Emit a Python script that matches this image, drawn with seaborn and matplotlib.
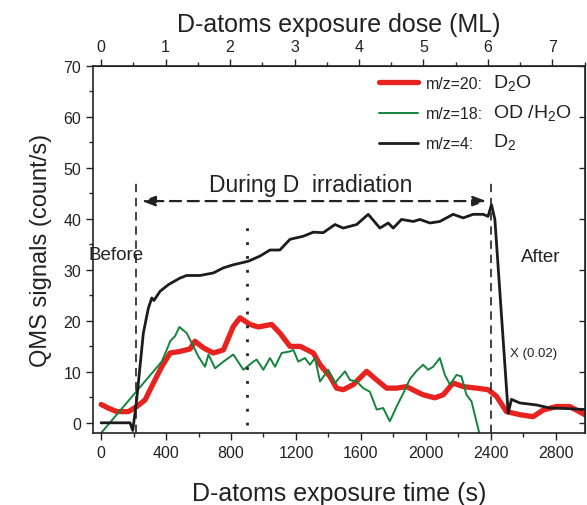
import matplotlib
matplotlib.use('Agg')
import matplotlib.pyplot as plt
from matplotlib.ticker import MultipleLocator
import pandas as pd
import seaborn as sns

# m/z=20 : D2O
d2o_time = [0, 50, 97, 168, 220, 271, 322, 373, 425, 486, 548, 578, 630, 691, 753,
            814, 855, 917, 968, 1050, 1101, 1163, 1225, 1307, 1348, 1409, 1450, 1491,
            1553, 1635, 1697, 1758, 1820, 1881, 1943, 1983, 2055, 2107, 2168, 2230,
            2312, 2383, 2435, 2496, 2578, 2660, 2722, 2804, 2886, 2978]
d2o_signal = [3.6, 2.8, 2.2, 2.2, 3.2, 4.5, 7.8, 11.0, 13.7, 14.0, 14.5, 16.0, 14.7, 13.7, 14.3,
              18.9, 20.6, 19.3, 18.8, 19.3, 17.6, 15.0, 15.0, 13.7, 11.4, 9.1, 6.8, 6.5,
              7.5, 10.1, 8.4, 6.8, 6.8, 7.1, 6.1, 5.5, 4.9, 5.5, 7.8, 7.1,
              6.8, 6.5, 5.2, 2.2, 1.6, 1.2, 2.5, 3.2, 3.2, 1.6]

# m/z=18 : OD / H2O
oh_time = [0, 373, 400, 425, 455, 482, 527, 568, 599, 640, 661, 702, 753, 814, 876,
           937, 958, 999, 1040, 1071, 1112, 1163, 1184, 1214, 1255, 1286, 1317, 1348,
           1399, 1440, 1502, 1532, 1574, 1614, 1655, 1697, 1737, 1778, 1820, 1861,
           1902, 1943, 1983, 2014, 2045, 2086, 2117, 2148, 2189, 2219, 2250, 2281, 2332]
oh_signal = [-2.0, 12.0, 14.0, 16.0, 17.0, 18.8, 17.6, 15.0, 13.0, 11.0, 13.4, 10.7, 12.0, 13.4, 10.4,
             12.0, 12.4, 10.4, 12.7, 11.0, 13.7, 14.0, 14.3, 12.0, 12.7, 11.4, 12.7, 8.1,
             10.4, 7.8, 10.1, 8.4, 8.1, 6.8, 6.1, 2.6, 2.9, 0.3, 3.2, 5.8,
             8.6, 10.2, 11.4, 10.4, 11.0, 12.7, 9.4, 7.5, 9.4, 9.1, 5.5, 4.2, -2.4]

# m/z=4 : D2
d2_time = [0, 178, 195, 219, 260, 291, 312, 325, 363, 414, 486, 527, 609, 691, 753,
           814, 906, 978, 1040, 1101, 1163, 1245, 1307, 1368, 1440, 1491, 1574, 1645,
           1717, 1768, 1799, 1850, 1922, 1963, 2025, 2086, 2168, 2230, 2291, 2353,
           2383, 2404, 2425, 2507, 2527, 2578, 2681, 2763, 2866, 2980]
d2_signal = [0.0, 0.0, -1.5, 4.5, 17.6, 22.5, 24.5, 24.0, 25.8, 27.1, 28.4, 28.9, 28.9, 29.4, 30.4,
             31.0, 31.7, 32.7, 33.9, 33.9, 36.0, 36.6, 37.4, 37.3, 38.9, 38.2, 38.9, 40.9,
             38.2, 39.2, 38.2, 39.9, 39.5, 39.9, 39.2, 39.5, 40.9, 40.2, 40.9, 40.9,
             40.5, 42.8, 39.9, 1.9, 4.6, 3.9, 3.5, 2.9, 2.8, 2.6]

series_labels = ['m/z=20:', 'm/z=18:', 'm/z=4:']
species = [r'D$_2$O', r'OD /H$_2$O', r'D$_2$']
dose_ticks = [0, 1, 2, 3, 4, 5, 6, 7]

SEC_PER_ML = 397          # time (s) -> dose (ML)
irr_start, irr_end = 215, 2400
mid_mark = 900

sns.set_style('ticks')
plt.rcParams['font.family'] = ['Liberation Sans', 'DejaVu Sans']
plt.rcParams['mathtext.fontset'] = 'custom'
plt.rcParams['mathtext.rm'] = 'Liberation Sans'
plt.rcParams['mathtext.it'] = 'Liberation Sans:italic'

fig = plt.figure(figsize=(5.87, 5.06), dpi=100)
ax = fig.add_axes([93 / 587, 1 - 434 / 506, (585 - 93) / 587, (434 - 67) / 506])

frames = [
    pd.DataFrame({'time': d2o_time, 'signal': d2o_signal}),
    pd.DataFrame({'time': oh_time, 'signal': oh_signal}),
    pd.DataFrame({'time': d2_time, 'signal': d2_signal}),
]
colors = ['#e8221e', '#14843c', '#1c1c1c']
widths = [3.8, 1.4, 2.0]
for df, lab, c, w in zip(frames, series_labels, colors, widths):
    sns.lineplot(data=df, x='time', y='signal', color=c, lw=w, label=lab,
                 estimator=None, sort=False, ax=ax)

ax.set_xlim(-50, 2980)
ax.set_ylim(-2, 70)
ax.xaxis.set_major_locator(MultipleLocator(400))
ax.xaxis.set_minor_locator(MultipleLocator(200))
ax.yaxis.set_major_locator(MultipleLocator(10))
ax.yaxis.set_minor_locator(MultipleLocator(5))
ax.tick_params(which='major', direction='out', length=5, width=1, labelsize=11.5, colors='#222')
ax.tick_params(which='minor', direction='out', length=3, width=1)
for s in ax.spines.values():
    s.set_linewidth(1.2)
    s.set_color('#222')

ax.set_xlabel('D-atoms exposure time (s)', fontsize=18, labelpad=15, color='#222')
ax.set_ylabel('QMS signals (count/s)', fontsize=17, labelpad=8, color='#222')

top = ax.secondary_xaxis('top', functions=(lambda t: t / SEC_PER_ML, lambda d: d * SEC_PER_ML))
top.set_xticks(dose_ticks)
top.xaxis.set_minor_locator(MultipleLocator(0.5))
top.tick_params(which='major', direction='out', length=5, width=1, labelsize=11.5, colors='#222')
top.tick_params(which='minor', direction='out', length=3, width=1)
top.set_xlabel('D-atoms exposure dose (ML)', fontsize=18, labelpad=6, color='#222')

right = ax.secondary_yaxis('right')
right.yaxis.set_major_locator(MultipleLocator(10))
right.tick_params(direction='in', length=4, width=1, labelright=False)

# annotations
ax.vlines([irr_start, irr_end], -2, 47.6, colors='#222', lw=1.2, linestyles=(0, (5, 3.5)))
ax.vlines(mid_mark, -0.5, 39.5, colors='#222', lw=2, linestyles=(0, (1, 4)))
ax.annotate('', xy=(250, 43.5), xytext=(2373, 43.5),
            arrowprops=dict(arrowstyle='<|-|>,head_length=0.8,head_width=0.3',
                            linestyle=(0, (5, 3)), lw=1.6, color='#222',
                            shrinkA=0, shrinkB=0))
ax.text(1292, 46.8, 'During D  irradiation', ha='center', va='center', fontsize=16.5, color='#222')
ax.text(-80, 33, 'Before', ha='left', va='center', fontsize=13.5, color='#222')
ax.text(2585, 32.7, 'After', ha='left', va='center', fontsize=13.5, color='#222')
ax.text(2517, 13.6, 'X (0.02)', ha='left', va='center', fontsize=9.5, color='#222')

leg = ax.legend(loc='upper left', bbox_to_anchor=(0.569, 0.99), frameon=False, fontsize=11.5,
                handlelength=2.4, handletextpad=0.5, labelspacing=0.95, borderaxespad=0)
for t in leg.get_texts():
    t.set_color('#222')
for y, sp in zip([0.956, 0.875, 0.796], species):
    ax.text(0.812, y, sp, transform=ax.transAxes, ha='left', va='center', fontsize=14, color='#222')

fig.savefig('out.png', dpi=100)
